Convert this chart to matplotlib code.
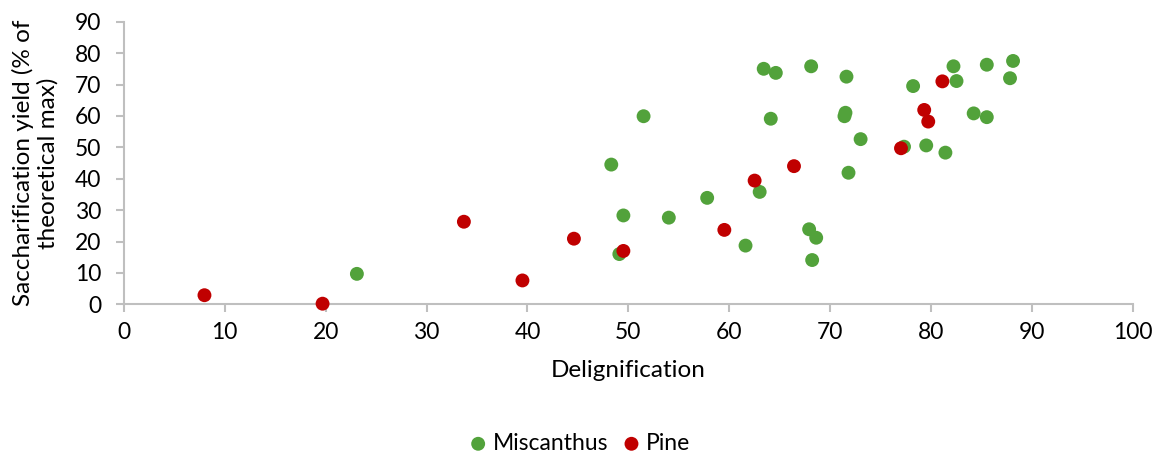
import matplotlib.pyplot as plt

plt.rcParams['font.family'] = ['Lato', 'DejaVu Sans']

# Miscanthus: delignification (%) vs saccharification yield (% of theoretical max)
MISC_X = [23.1, 48.3, 49.1, 49.5, 51.5, 54.0, 57.8, 61.6, 63.0, 63.4, 64.6, 64.1,
          67.9, 68.6, 68.2, 68.1, 71.6, 71.5, 71.4, 73.0, 71.8, 77.3, 78.2, 79.5,
          81.4, 82.2, 82.5, 84.2, 85.5, 85.5, 87.8, 88.1]
MISC_Y = [9.7, 44.5, 16.0, 28.3, 59.9, 27.6, 33.9, 18.7, 35.8, 75.0, 73.7, 59.1,
          23.9, 21.2, 14.1, 75.8, 72.5, 61.0, 59.9, 52.6, 41.9, 50.2, 69.5, 50.6,
          48.3, 75.8, 71.1, 60.8, 59.6, 76.3, 72.0, 77.5]

# Pine
PINE_X = [8.0, 19.7, 33.7, 39.5, 44.6, 49.5, 59.5, 62.5, 66.4, 77.0, 79.3, 79.7, 81.1]
PINE_Y = [2.9, 0.2, 26.3, 7.6, 20.9, 17.0, 23.7, 39.4, 44.0, 49.7, 61.9, 58.2, 71.0]

GREEN = '#52a23b'
RED = '#c00000'
GRID = '#bfbfbf'

fig = plt.figure(figsize=(11.55, 4.54), dpi=100)
ax = fig.add_axes([0.1071, 0.3297, 0.8740, 0.6225])

ax.scatter(MISC_X, MISC_Y, s=100, color=GREEN, edgecolors='none', label='Miscanthus',
           clip_on=False, zorder=3)
ax.scatter(PINE_X, PINE_Y, s=100, color=RED, edgecolors='none', label='Pine',
           clip_on=False, zorder=4)

ax.set_xlim(0, 100)
ax.set_ylim(0, 90)
ax.set_xticks(range(0, 101, 10))
ax.set_yticks(range(0, 91, 10))

for side in ('top', 'right'):
    ax.spines[side].set_visible(False)
for side in ('left', 'bottom'):
    ax.spines[side].set_color(GRID)
    ax.spines[side].set_linewidth(1.5)
ax.tick_params(axis='both', colors=GRID, width=1.5, length=6, labelsize=16.5,
               labelcolor='black')
ax.tick_params(axis='x', pad=7)
ax.tick_params(axis='y', pad=10)

ax.set_xlabel('Delignification', fontsize=17.5, labelpad=12)
ax.set_ylabel('Saccharification yield (% of\ntheoretical max)', fontsize=17.5,
              labelpad=12, linespacing=1.15)

fig.legend(loc='lower center', bbox_to_anchor=(0.502, -0.045), ncol=2, frameon=False,
           fontsize=16.5, handlelength=0.8, handletextpad=0.25, columnspacing=0.6,
           markerscale=1.0)

fig.savefig('out.png', dpi=100)
